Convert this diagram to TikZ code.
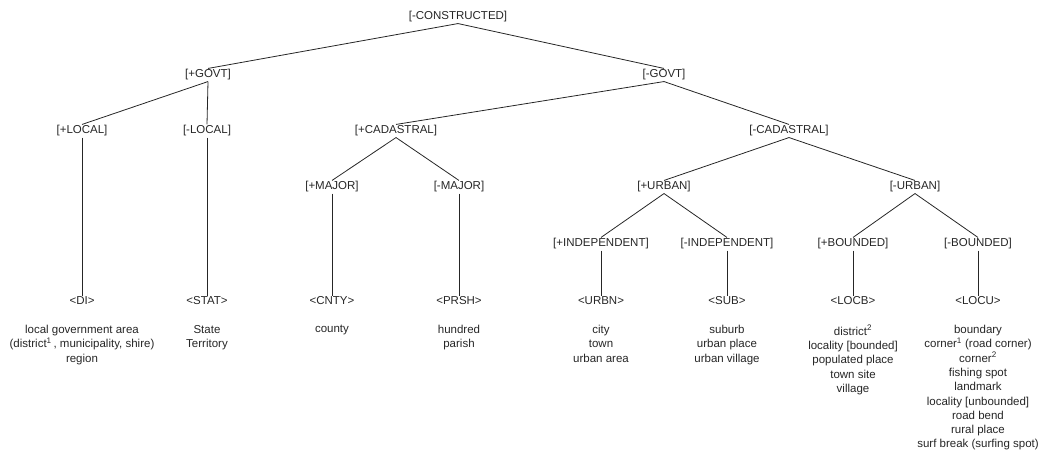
\documentclass[tikz,border=0pt]{standalone}
\usepackage{fontspec}
\setmainfont{Liberation Sans}
\begin{document}
\begin{tikzpicture}[x=1pt,y=-1pt,
  feat/.style={inner sep=1pt, text=black!85, font=\fontsize{11.5}{14.3}\selectfont},
  desc/.style={inner sep=0pt, anchor=north, align=center, text=black!85, font=\fontsize{11.5}{14.3}\selectfont},
  edge/.style={draw=black!85, line width=0.8pt}]
\useasboundingbox (0,0) rectangle (1062,450);
% level 0
\node[feat] (con) at (458,17) {[-CONSTRUCTED]};
% level 1
\node[feat] (pgov) at (208,75) {[+GOVT]};
\node[feat] (mgov) at (664,75) {[-GOVT]};
% level 2
\node[feat] (ploc) at (82,131) {[+LOCAL]};
\node[feat] (mloc) at (207,131) {[-LOCAL]};
\node[feat] (pcad) at (396,131) {[+CADASTRAL]};
\node[feat] (mcad) at (789,131) {[-CADASTRAL]};
% level 3
\node[feat] (pmaj) at (332,187) {[+MAJOR]};
\node[feat] (mmaj) at (459,187) {[-MAJOR]};
\node[feat] (purb) at (664,187) {[+URBAN]};
\node[feat] (murb) at (915,187) {[-URBAN]};
% level 4
\node[feat] (pind) at (601,244) {[+INDEPENDENT]};
\node[feat] (mind) at (727,244) {[-INDEPENDENT]};
\node[feat] (pbnd) at (853,244) {[+BOUNDED]};
\node[feat] (mbnd) at (978,244) {[-BOUNDED]};
% codes
\node[feat] (di) at (82,301) {<DI>};
\node[feat] (stat) at (207,301) {<STAT>};
\node[feat] (cnty) at (332,301) {<CNTY>};
\node[feat] (prsh) at (459,301) {<PRSH>};
\node[feat] (urbn) at (601,301) {<URBN>};
\node[feat] (sub) at (727,301) {<SUB>};
\node[feat] (locb) at (853,301) {<LOCB>};
\node[feat] (locu) at (978,301) {<LOCU>};
% descriptions
\node[desc] (ddi) at (82,325) {local government area\\(district\textsuperscript{1}\,, municipality, shire)\\region};
\node[desc] (dstat) at (207,325) {State\\Territory};
\node[desc] (dcnty) at (332,325) {county};
\node[desc] (dprsh) at (459,325) {hundred\\parish};
\node[desc] (durbn) at (601,325) {city\\town\\urban area};
\node[desc] (dsub) at (727,325) {suburb\\urban place\\urban village};
\node[desc] (dlocb) at (853,325) {district\textsuperscript{2}\\locality [bounded]\\populated place\\town site\\village};
\node[desc] (dlocu) at (978,325) {boundary\\corner\textsuperscript{1} (road corner)\\corner\textsuperscript{2}\\fishing spot\\landmark\\locality [unbounded]\\road bend\\rural place\\surf break (surfing spot)};
% edges
\draw[edge] (con.south) -- (pgov.north);
\draw[edge] (con.south) -- (mgov.north);
\draw[edge] (pgov.south) -- (ploc.north);
\draw[edge] (pgov.south) -- (mloc.north);
\draw[edge] (mgov.south) -- (pcad.north);
\draw[edge] (mgov.south) -- (mcad.north);
\draw[edge] (pcad.south) -- (pmaj.north);
\draw[edge] (pcad.south) -- (mmaj.north);
\draw[edge] (mcad.south) -- (purb.north);
\draw[edge] (mcad.south) -- (murb.north);
\draw[edge] (purb.south) -- (pind.north);
\draw[edge] (purb.south) -- (mind.north);
\draw[edge] (murb.south) -- (pbnd.north);
\draw[edge] (murb.south) -- (mbnd.north);
\draw[edge] (ploc.south) -- (di.north);
\draw[edge] (mloc.south) -- (stat.north);
\draw[edge] (pmaj.south) -- (cnty.north);
\draw[edge] (mmaj.south) -- (prsh.north);
\draw[edge] (pind.south) -- (urbn.north);
\draw[edge] (mind.south) -- (sub.north);
\draw[edge] (pbnd.south) -- (locb.north);
\draw[edge] (mbnd.south) -- (locu.north);
\end{tikzpicture}
\end{document}
